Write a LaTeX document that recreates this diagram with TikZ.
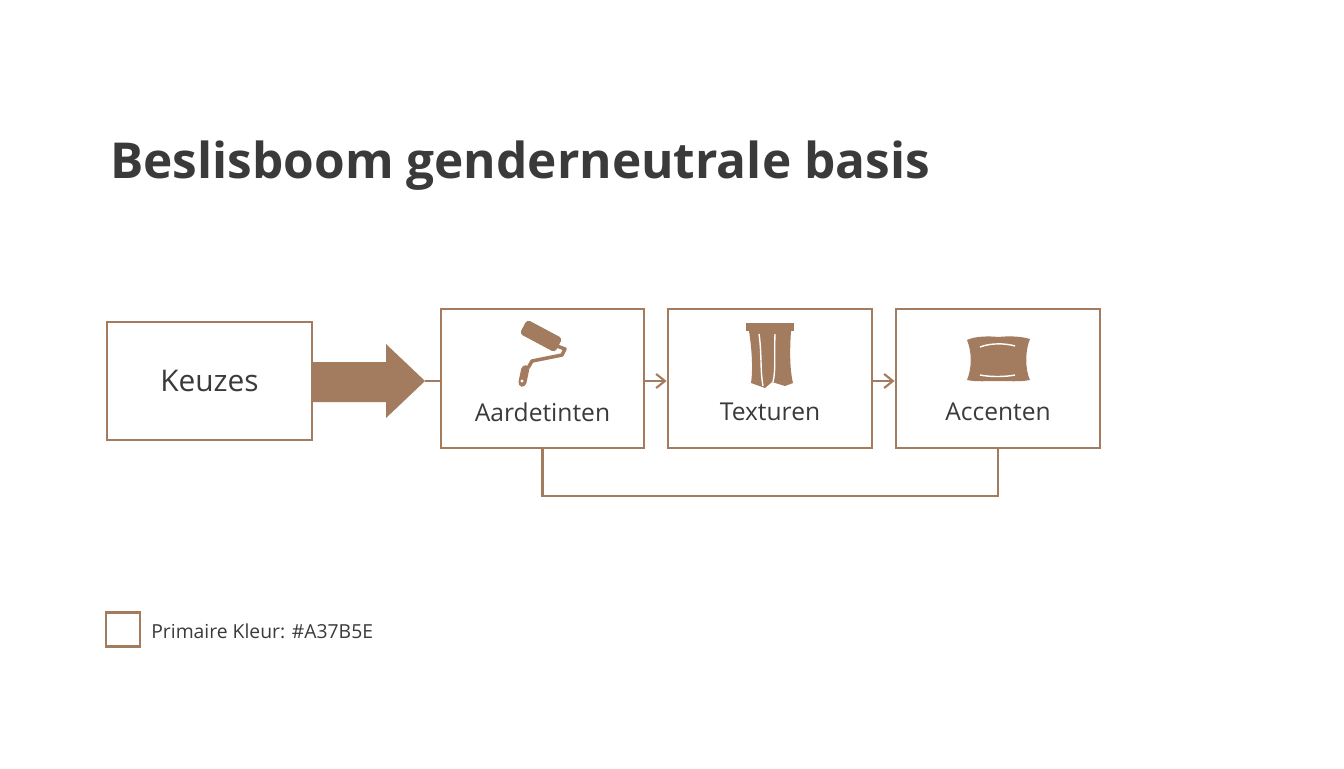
\documentclass[tikz,border=0pt]{standalone}
\usepackage{fontspec}
\setmainfont{Open Sans}
\usetikzlibrary{arrows.meta}
\definecolor{brn}{HTML}{A37B5E}
\definecolor{txt}{HTML}{3A3A3A}
\begin{document}
\begin{tikzpicture}[x=0.02cm,y=-0.02cm,
  box/.style={draw=brn,line width=1.6pt,fill=white,inner sep=0},
  lbl/.style={text=txt,font=\fontsize{14}{16}\selectfont},
  conn/.style={draw=brn,line width=1.2pt}]
\useasboundingbox (0,0) rectangle (1344,768);
\fill[white] (0,0) rectangle (1344,768);
\node[anchor=base west,text=txt,font=\fontsize{28.2}{32}\selectfont\bfseries,inner sep=0] (title) at (110,178) {Beslisboom genderneutrale basis};
\node[box,minimum width=205*0.02cm,minimum height=118*0.02cm] (k) at (209.5,381) {};
\node[text=txt,font=\fontsize{17}{19}\selectfont] at (209.5,381) {Keuzes};
\node[box,minimum width=203*0.02cm,minimum height=139*0.02cm] (a) at (542.5,378.5) {};
\node[box,minimum width=204*0.02cm,minimum height=139*0.02cm] (t) at (770,378.5) {};
\node[box,minimum width=204*0.02cm,minimum height=139*0.02cm] (c) at (998,378.5) {};
\node[lbl] at (542.5,412) {Aardetinten};
\node[lbl] at (770,412) {Texturen};
\node[lbl] at (998,412) {Accenten};
% big arrow
\coordinate (tip) at (425,381);
\fill[brn] (313,362) -- (386,362) -- (386,344) -- (tip) -- (386,418) -- (386,402) -- (313,402) -- cycle;
\draw[conn] (tip) -- (tip -| a.west);
\draw[conn,->,>={Straight Barb[length=5pt,width=8pt]}] (tip -| a.east) -- (tip -| t.west);
\draw[conn,->,>={Straight Barb[length=5pt,width=8pt]}] (tip -| t.east) -- (tip -| c.west);
\draw[conn] (a.south) -- ++(0,47) -| (c.south);
% roller icon
\fill[brn,rotate around={-28:(541,336)},rounded corners=2pt] (521,328) rectangle (561,344);
\draw[brn,line width=2pt,line join=round] (557,346) -- (565,349) -- (562,355) -- (532,361) -- (528,368);
\fill[brn,rotate around={-12:(524,375)},rounded corners=2.5pt] (520,365) rectangle (528,387);
\fill[white] (522,381) circle (1.6);
% curtain icon
\fill[brn] (746,323) rectangle (794,331);
\fill[brn] (749,331) -- (791,331) .. controls (789,360) and (791,375) .. (793,383) -- (785,386) -- (772,382) -- (765,388) -- (751,383) .. controls (753,370) and (752,350) .. (749,331) -- cycle;
\draw[white,line width=0.8pt] (759,334) .. controls (762,355) and (760,370) .. (763,386);
\draw[white,line width=0.8pt] (775,334) .. controls (774,355) and (776,370) .. (773,382);
% pillow icon
\fill[brn] (967,340) .. controls (975,336) and (990,336) .. (998,337) .. controls (1008,336) and (1020,336) .. (1030,339)
 .. controls (1025,350) and (1025,370) .. (1030,380) .. controls (1020,382) and (1008,381) .. (998,381)
 .. controls (988,381) and (976,382) .. (967,380) .. controls (972,368) and (972,352) .. (967,340) -- cycle;
\draw[white,line width=0.8pt] (980,347) .. controls (990,343) and (1005,343) .. (1015,346);
\draw[white,line width=0.8pt] (980,375) .. controls (990,377) and (1005,377) .. (1015,375);
% legend
\node[draw=brn,line width=1.6pt,minimum size=34*0.02cm,inner sep=0] (leg) at (123,629.5) {};
\node[anchor=west,text=txt,font=\fontsize{11}{13}\selectfont,inner sep=0] at (151,631) {Primaire Kleur: \#A37B5E};
\end{tikzpicture}
\end{document}
